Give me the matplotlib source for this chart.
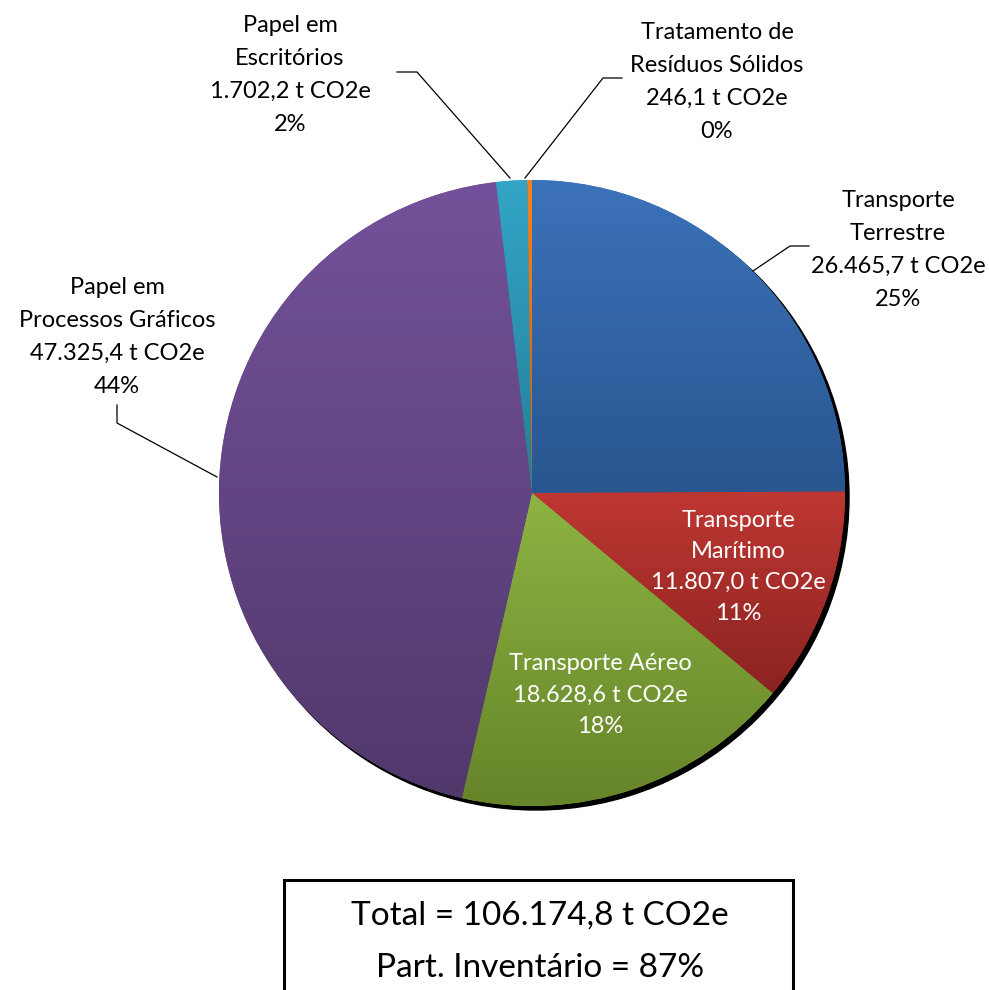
import numpy as np
import matplotlib.pyplot as plt
from matplotlib.colors import to_rgb
from matplotlib.patches import Circle, Rectangle

# dados do inventário (t CO2e)
categorias = ["Transporte\nTerrestre", "Transporte\nMarítimo", "Transporte Aéreo",
              "Papel em\nProcessos Gráficos", "Papel em\nEscritórios",
              "Tratamento de\nResíduos Sólidos"]
emissoes = [26465.7, 11807.0, 18628.6, 47325.4, 1702.2, 246.1]
percentuais = [25, 11, 18, 44, 2, 0]
total = 106174.8
part_inventario = 87

# cores (topo -> base do gradiente)
cor_topo = ["#3C72BA", "#BF3732", "#8DB443", "#74529B", "#33A5C6", "#F58220"]
cor_base = ["#28568F", "#8A2320", "#668429", "#51386B", "#247E98", "#C66515"]


def fmt_br(v):
    s = f"{v:,.1f}"
    return s.replace(",", "X").replace(".", ",").replace("X", ".")


plt.rcParams['font.family'] = ['Lato', 'DejaVu Sans']

fig = plt.figure(figsize=(9.89, 9.90), dpi=100)
ax = fig.add_axes([0, 0, 1, 1])

cx, cy, r = 532, 497, 313

# sombra
ax.add_patch(Circle((cx + 4, cy - 4), r, color="black", zorder=0))

wedges, _ = ax.pie(emissoes, startangle=90, counterclock=False,
                   center=(cx, cy), radius=r, colors=cor_topo,
                   wedgeprops=dict(linewidth=0), frame=True)

for w, c1, c2 in zip(wedges, cor_topo, cor_base):
    w.set_zorder(1)
    bb = w.get_path().get_extents()
    t = np.linspace(0, 1, 256)[:, None, None]
    grad = (1 - t) * np.array(to_rgb(c1)) + t * np.array(to_rgb(c2))
    im = ax.imshow(grad, extent=(bb.x0, bb.x1, bb.y0, bb.y1), aspect='auto',
                   interpolation='bilinear', zorder=2)
    im.set_clip_path(w)

# rótulos: (x, y centro) em pixels de cima para baixo
pos = [(898, 250), (738, 567), (600, 695), (117, 337), (290, 75), (717, 82)]
cores_txt = ["black", "white", "white", "black", "black", "black"]
espaco = [1.70, 1.60, 1.60, 1.70, 1.70, 1.70]
for nome, v, p, (x, y), c, ls in zip(categorias, emissoes, percentuais, pos,
                                     cores_txt, espaco):
    txt = f"{nome}\n{fmt_br(v)} t CO2e\n{p}%"
    ax.text(x, 990 - y, txt, ha="center", va="center", fontsize=17,
            color=c, linespacing=ls, zorder=5)

# linhas de chamada
linhas = [
    [(809, 246), (790, 246), (753, 271)],
    [(117, 405), (117, 423), (217, 477)],
    [(397, 72), (417, 72), (510, 178)],
    [(622, 78), (603, 78), (525, 178)],
]
for ln in linhas:
    xs = [p[0] for p in ln]
    ys = [990 - p[1] for p in ln]
    ax.plot(xs, ys, color="black", lw=0.9, zorder=4)

# caixa do total
ax.add_patch(Rectangle((284, -10), 509, 990 - 880 + 10, fill=False,
                       edgecolor="black", lw=2.2, zorder=5))
ax.text(540, 990 - 916, f"Total = {fmt_br(total)} t CO2e", ha="center",
        va="center", fontsize=24, zorder=6)
ax.text(540, 990 - 968, f"Part. Inventário = {part_inventario}%", ha="center",
        va="center", fontsize=24, zorder=6)

ax.set_xlim(0, 989)
ax.set_ylim(0, 990)
ax.set_aspect('equal')
ax.axis('off')

fig.savefig("out.png", dpi=100)
